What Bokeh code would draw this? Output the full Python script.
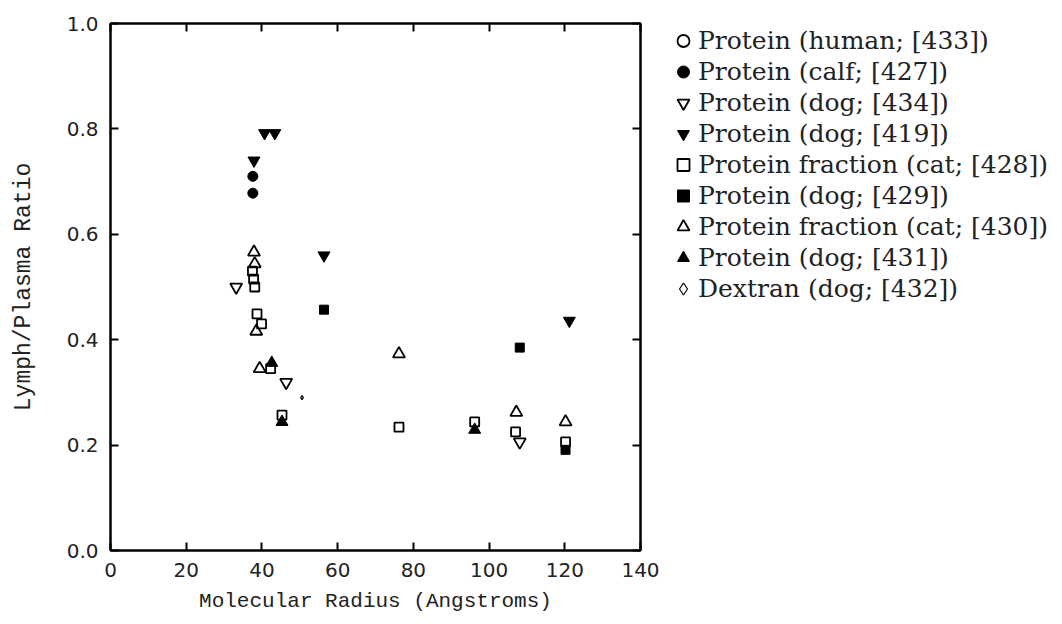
from bokeh.plotting import figure
from bokeh.layouts import row
from bokeh.models import Legend, LegendItem, LinearAxis, FixedTicker, PrintfTickFormatter, ColumnDataSource
from bokeh.embed import file_html
from bokeh.resources import INLINE

# ---- data ----
x_ticks = [0, 20, 40, 60, 80, 100, 120, 140]
y_ticks = [0.0, 0.2, 0.4, 0.6, 0.8, 1.0]

human_x = []          # no human point is visible in the figure
human_y = []
calf_x = [37.6, 37.6]
calf_y = [0.710, 0.678]
dog434_x = [33.2, 46.4, 108.1]
dog434_y = [0.500, 0.319, 0.206]
dog419_x = [37.9, 40.7, 43.4, 56.4, 121.2]
dog419_y = [0.740, 0.792, 0.792, 0.560, 0.436]
cat428_x = [37.5, 37.8, 38.1, 38.7, 39.9, 42.3, 45.3, 76.2, 96.2, 107.0, 120.2]
cat428_y = [0.530, 0.515, 0.500, 0.449, 0.430, 0.345, 0.257, 0.234, 0.244, 0.225, 0.206]
dog429_x = [56.4, 108.1, 120.2]
dog429_y = [0.457, 0.385, 0.191]
cat430_x = [37.9, 38.1, 38.5, 39.4, 76.2, 107.2, 120.2]
cat430_y = [0.566, 0.544, 0.416, 0.345, 0.373, 0.262, 0.244]
dog431_x = [42.6, 45.3, 96.2]
dog431_y = [0.356, 0.244, 0.229]
dextran_x = [50.6]
dextran_y = [0.290]

labels = [
    "Protein (human; [433])",
    "Protein (calf; [427])",
    "Protein (dog; [434])",
    "Protein (dog; [419])",
    "Protein fraction (cat; [428])",
    "Protein (dog; [429])",
    "Protein fraction (cat; [430])",
    "Protein (dog; [431])",
    "Dextran (dog; [432])",
]

K = "black"
OPEN = dict(fill_color=None, line_color=K, line_width=1.8)
FILL = dict(fill_color=K, line_color=K)
series = [
    (human_x, human_y, dict(marker="circle", size=12, **OPEN)),
    (calf_x, calf_y, dict(marker="circle", size=10, **FILL)),
    (dog434_x, dog434_y, dict(marker="inverted_triangle", size=12, **OPEN)),
    (dog419_x, dog419_y, dict(marker="inverted_triangle", size=12, **FILL)),
    (cat428_x, cat428_y, dict(marker="square", size=9, **OPEN)),
    (dog429_x, dog429_y, dict(marker="square", size=9, **FILL)),
    (cat430_x, cat430_y, dict(marker="triangle", size=12, **OPEN)),
    (dog431_x, dog431_y, dict(marker="triangle", size=12, **FILL)),
    (dextran_x, dextran_y, dict(marker="diamond", size=4, fill_color=None, line_color=K, line_width=1.2)),
]

# ---------------- main plot ----------------
p = figure(width=662, height=624, x_range=(0, 140), y_range=(0, 1),
           output_backend="svg", toolbar_location=None,
           min_border_left=110, min_border_right=22,
           min_border_top=23, min_border_bottom=74,
           x_axis_label="Molecular Radius (Angstroms)",
           y_axis_label="Lymph/Plasma Ratio")
p.grid.visible = False
p.outline_line_color = "black"
p.outline_line_width = 2
p.background_fill_color = "white"
p.border_fill_color = "white"

bottom = p.xaxis[0]
left = p.yaxis[0]
bottom.ticker = FixedTicker(ticks=x_ticks)
left.ticker = FixedTicker(ticks=y_ticks)
left.formatter = PrintfTickFormatter(format="%.1f")

top = LinearAxis(ticker=FixedTicker(ticks=x_ticks),
                 major_label_overrides={t: "" for t in x_ticks},
                 major_label_text_font_size="8px", major_label_standoff=0)
right = LinearAxis(ticker=FixedTicker(ticks=y_ticks),
                   major_label_overrides={t: "" for t in y_ticks},
                   major_label_text_font_size="8px", major_label_standoff=0)
p.add_layout(top, "above")
p.add_layout(right, "right")

for ax in [bottom, left, top, right]:
    ax.axis_line_width = 2
    ax.axis_line_color = "black"
    ax.major_tick_in = 8
    ax.major_tick_out = 0
    ax.major_tick_line_width = 2
    ax.minor_tick_line_color = None

for ax in [bottom, left]:
    ax.major_label_text_font = "DejaVu Sans"
    ax.major_label_text_color = "#222222"
    ax.major_label_text_font_size = "20px"
    ax.major_label_standoff = 12
    ax.axis_label_text_font = "Liberation Mono"
    ax.axis_label_text_font_style = "normal"
    ax.axis_label_text_color = "#222222"
bottom.axis_label_text_font_size = "21px"
bottom.axis_label_standoff = 10
left.axis_label_text_font_size = "23px"
left.axis_label_standoff = 27

for xs, ys, st in series:
    p.scatter("x", "y", source=ColumnDataSource(dict(x=xs, y=ys)), **st)

# ---------------- legend panel ----------------
q = figure(width=400, height=624, x_range=(0, 1), y_range=(0, 1),
           output_backend="svg", toolbar_location=None,
           x_axis_location=None, y_axis_location=None,
           min_border=0, outline_line_color=None)
q.grid.visible = False
q.background_fill_color = "white"
q.border_fill_color = "white"

items = []
for (xs, ys, st), lab in zip(series, labels):
    # legend keys only: one NaN row so the key is drawn, nothing is plotted here
    r = q.scatter("x", "y", source=ColumnDataSource(dict(x=[float("nan")], y=[float("nan")])), **st)
    items.append(LegendItem(label=lab, renderers=[r]))

legend = Legend(items=items, location=(6, 246),
                label_text_font="DejaVu Serif", label_text_font_size="25px",
                label_text_color="#222222",
                glyph_width=30, glyph_height=31, label_height=31,
                spacing=0, label_standoff=0, padding=0, margin=0,
                border_line_color=None, background_fill_alpha=0)
q.add_layout(legend, "center")

layout = row(p, q, spacing=0)
open("out.html", "w").write(file_html(layout, INLINE))
